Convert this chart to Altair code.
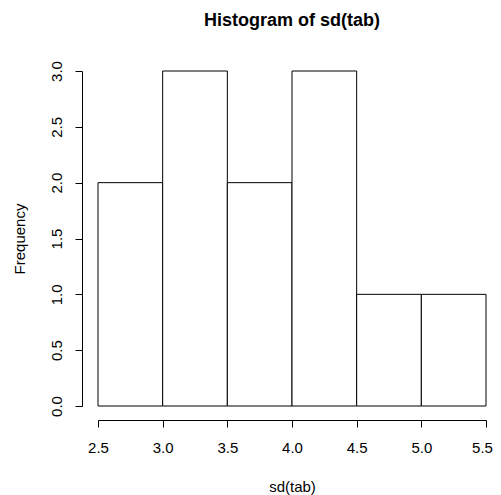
import altair as alt
import pandas as pd

bin_start = [2.5, 3.0, 3.5, 4.0, 4.5, 5.0]
bin_end = [3.0, 3.5, 4.0, 4.5, 5.0, 5.5]
counts = [2, 3, 2, 3, 1, 1]
x_ticks = [2.5, 3.0, 3.5, 4.0, 4.5, 5.0, 5.5]
y_ticks = [0.0, 0.5, 1.0, 1.5, 2.0, 2.5, 3.0]

df = pd.DataFrame({"start": bin_start, "end": bin_end, "count": counts, "base": [0] * len(counts)})

FONT = "Liberation Sans"

chart = alt.Chart(df).mark_rect(fill="white", stroke="black", strokeWidth=1).encode(
    x=alt.X("start:Q",
            scale=alt.Scale(domain=[2.5, 5.5], nice=False, zero=False),
            axis=alt.Axis(title="sd(tab)", values=x_ticks, format=".1f", grid=False,
                          offset=14, tickSize=7, labelPadding=13, titlePadding=24,
                          labelOffset={"condition": {"test": "datum.value == 5.5", "value": -4}, "value": 0},
                          domainColor="black", tickColor="black", labelColor="black",
                          titleColor="black", labelFontSize=15, titleFontSize=15,
                          titleFontWeight="normal", labelFont=FONT,
                          titleFont=FONT, labelFlush=False)),
    x2="end:Q",
    y=alt.Y("count:Q",
            scale=alt.Scale(domain=[0, 3], nice=False),
            axis=alt.Axis(title="Frequency", values=y_ticks, format=".1f", grid=False,
                          offset=16, tickSize=7, labelPadding=11, titlePadding=22,
                          labelAngle=270, labelAlign="center", labelBaseline="bottom",
                          domainColor="black", tickColor="black", labelColor="black",
                          titleColor="black", labelFontSize=15, titleFontSize=15,
                          titleFontWeight="normal", labelFont=FONT,
                          titleFont=FONT, labelFlush=False)),
    y2="base:Q",
).properties(
    width=388,
    height=335,
    title=alt.TitleParams("Histogram of sd(tab)", font=FONT, fontSize=18,
                          fontWeight="bold", color="black", anchor="middle", offset=31),
    autosize=alt.AutoSizeParams(type="none"),
    padding={"left": 90, "top": 63, "right": 7, "bottom": 89},
).configure_view(stroke=None)

chart.save("out.html", embed_options={"renderer": "svg", "actions": False})
